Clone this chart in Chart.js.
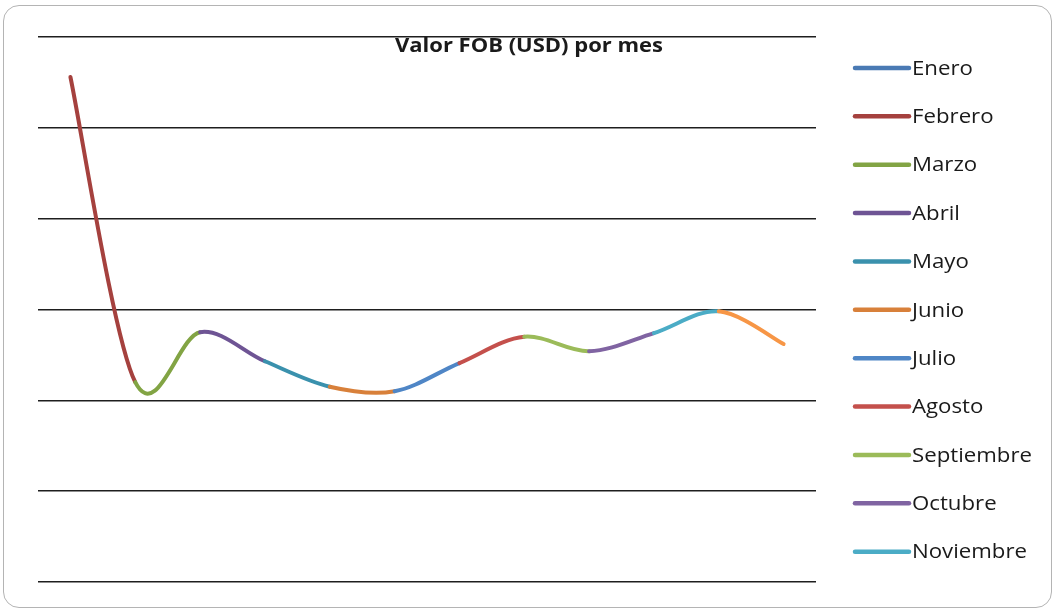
<!DOCTYPE html>
<html lang="es">
<head>
<meta charset="utf-8">
<title>Valor FOB (USD) por mes</title>
<script src="https://cdn.jsdelivr.net/npm/chart.js@4/dist/chart.umd.min.js"></script>
<style>
  html, body { margin: 0; padding: 0; background: #ffffff; }
  #wrap { position: relative; width: 1056px; height: 611px; overflow: hidden; }
  #frame {
    position: absolute; left: 3px; top: 5px; width: 1047px; height: 601px;
    border: 1.5px solid #b4b4b4; border-radius: 16px; box-sizing: content-box;
  }
  #chart { position: absolute; left: 0; top: 0; }
</style>
</head>
<body>
<div id="wrap">
  <div id="frame"></div>
  <canvas id="chart" width="1056" height="611"></canvas>
</div>
<script>
// Months shown on the category axis
const meses = ['Enero', 'Febrero', 'Marzo', 'Abril', 'Mayo', 'Junio',
               'Julio', 'Agosto', 'Septiembre', 'Octubre', 'Noviembre', 'Diciembre'];

// FOB value per month (thousand USD)
const valorFOB = [556, 220, 275, 243, 215, 210, 241, 270, 254, 274, 298, 262];

// One colour per month; each line segment takes the colour of the month it ends at
const coloresMes = ['#4a7ab4', '#a5413e', '#82a444', '#6e5494', '#3a91ad', '#d8803a',
                    '#4f86c6', '#c4504c', '#9bbb59', '#8064a2', '#4bacc6', '#f79646'];

// Months listed in the legend
const leyenda = meses.slice(0, 11);

// Value axis range and gridline step
const ejeMin = 0, ejeMax = 600, ejePaso = 100;

// Draws the title text squeezed/stretched to a given width
function textoAncho(ctx, texto, x, y, ancho, alinear) {
  const w = ctx.measureText(texto).width;
  const k = ancho / w;
  ctx.save();
  ctx.translate(x, y);
  ctx.scale(k, 1);
  ctx.textAlign = alinear;
  ctx.fillText(texto, 0, 0);
  ctx.restore();
}

const tituloPlugin = {
  id: 'tituloFOB',
  beforeDraw(chart) {
    const ctx = chart.ctx;
    ctx.save();
    ctx.fillStyle = '#1a1a1a';
    ctx.font = 'bold 20px "Open Sans", Lato, sans-serif';
    ctx.textBaseline = 'alphabetic';
    textoAncho(ctx, 'Valor FOB (USD) por mes', 529, 52, 268, 'center');
    ctx.restore();
  }
};

// Smooth curve in the uniform Catmull-Rom style: each handle follows
// the chord between the neighbouring points
const suavizadoPlugin = {
  id: 'suavizado',
  beforeDatasetsDraw(chart) {
    chart.data.datasets.forEach((ds, di) => {
      const meta = chart.getDatasetMeta(di);
      const linea = meta.dataset;
      if (!linea) return;
      linea.updateControlPoints(chart.chartArea, 'x');
      const pts = meta.data;
      const n = pts.length;
      for (let i = 0; i < n; i++) {
        const p = pts[i];
        const a = pts[Math.max(i - 1, 0)];
        const b = pts[Math.min(i + 1, n - 1)];
        const dx = (b.x - a.x) / 6;
        const dy = (b.y - a.y) / 6;
        p.cp1x = p.x - dx; p.cp1y = p.y - dy;
        p.cp2x = p.x + dx; p.cp2y = p.y + dy;
      }
    });
  }
};

const leyendaPlugin = {
  id: 'leyendaMeses',
  afterDraw(chart) {
    const ctx = chart.ctx;
    ctx.save();
    ctx.font = '20px "Open Sans", Lato, sans-serif';
    ctx.textBaseline = 'middle';
    const k = 120 / ctx.measureText('Septiembre').width;
    leyenda.forEach((m, i) => {
      const y = 68 + i * 48.37;
      ctx.strokeStyle = coloresMes[i];
      ctx.lineWidth = 4.5;
      ctx.lineCap = 'round';
      ctx.beginPath();
      ctx.moveTo(855, y);
      ctx.lineTo(909, y);
      ctx.stroke();
      ctx.fillStyle = '#1a1a1a';
      textoAncho(ctx, m, 912, y + 1, ctx.measureText(m).width * k, 'left');
    });
    ctx.restore();
  }
};

new Chart(document.getElementById('chart'), {
  type: 'line',
  data: {
    labels: meses,
    datasets: [{
      label: 'Valor FOB (USD)',
      data: valorFOB,
      borderWidth: 4,
      borderCapStyle: 'round',
      borderJoinStyle: 'round',
      borderColor: coloresMes[1],
      pointRadius: 0,
      pointHoverRadius: 0,
      tension: 0.4,
      fill: false,
      segment: {
        borderColor: c => coloresMes[c.p1DataIndex]
      }
    }]
  },
  options: {
    responsive: false,
    animation: false,
    events: [],
    layout: { padding: { left: 38, top: 37, right: 240, bottom: 29 } },
    plugins: {
      legend: { display: false },
      title: { display: false },
      tooltip: { enabled: false }
    },
    scales: {
      x: {
        display: false,
        offset: true
      },
      y: {
        min: ejeMin,
        max: ejeMax,
        ticks: { display: false, stepSize: ejePaso },
        border: { display: false },
        grid: { color: '#1e1e1e', lineWidth: 1.6, drawTicks: false },
        afterFit: s => { s.width = 0; }
      }
    }
  },
  plugins: [tituloPlugin, suavizadoPlugin, leyendaPlugin]
});
</script>
</body>
</html>
